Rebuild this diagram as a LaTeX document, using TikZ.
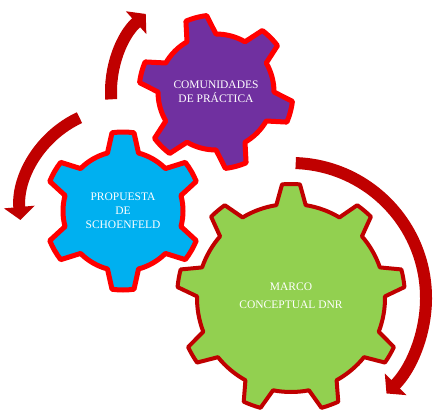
\documentclass[tikz,border=0pt]{standalone}
\usepackage{fontspec}
\setmainfont{Liberation Serif}
\usetikzlibrary{arrows.meta}

\definecolor{gearpurple}{HTML}{7030A0}
\definecolor{gearblue}{HTML}{00B0F0}
\definecolor{geargreen}{HTML}{92D050}
\definecolor{darkred}{HTML}{C00000}

% teeth, inner r, outer r, first tooth angle, half tip angle, half base angle
\newcommand{\gearpath}[6]{%
  ({#4-#6}:#2)
  \foreach \k in {1,...,#1}{
    -- ({#4+(\k-1)*360/#1-#5}:#3)
    arc[start angle={#4+(\k-1)*360/#1-#5}, end angle={#4+(\k-1)*360/#1+#5}, radius=#3]
    -- ({#4+(\k-1)*360/#1+#6}:#2)
    arc[start angle={#4+(\k-1)*360/#1+#6}, end angle={#4+\k*360/#1-#6}, radius=#2]
  } -- cycle}

\tikzset{
  gear/.style={line width=5pt, draw=red, line join=round},
  gearlabel/.style={text=white, align=center, font=\fontsize{11.5}{14}\selectfont},
  turn/.style={draw=darkred, line width=12pt, -{Triangle[length=13pt,width=30pt]}}
}

\begin{document}
\begin{tikzpicture}[x=1pt,y=1pt]
\useasboundingbox (0,0) rectangle (435,410);

\coordinate (cP) at (216,318);
\coordinate (cB) at (123,199);
\coordinate (cG) at (291,112);

% gears
\draw[gear, fill=gearblue, shift={(cB)}] \gearpath{6}{60}{79}{30}{8}{15};
\draw[gear, fill=gearpurple, shift={(cP)}] \gearpath{6}{58}{77}{45}{8}{15};
\draw[gear, fill=geargreen, draw=darkred, line width=4pt, shift={(cG)}] \gearpath{9}{94}{114}{10}{4.5}{9};

\node[gearlabel] (comunidades) at (cP) {COMUNIDADES\\DE PRÁCTICA};
\node[gearlabel] (propuesta) at (cB) {PROPUESTA\\DE\\SCHOENFELD};
\node[gearlabel] (marco) at ([yshift=2]cG) {MARCO\\[4pt]CONCEPTUAL DNR};

% turning arrows
\draw[turn] ([shift={(184:105)}]cP) arc[start angle=184, end angle=132, radius=105];
\draw[turn] ([shift={(115:103)}]cB) arc[start angle=115, end angle=185, radius=103];
\draw[turn] ([shift={(88:135)}]cG) arc[start angle=88, end angle=-45, radius=135];
\end{tikzpicture}
\end{document}
